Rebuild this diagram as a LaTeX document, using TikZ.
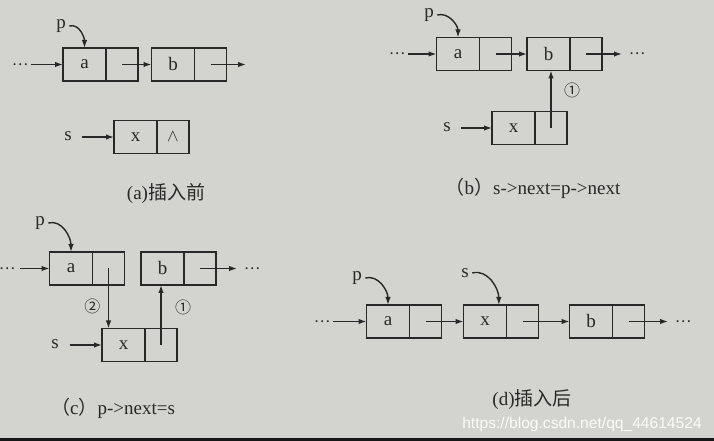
\documentclass[tikz,border=0pt]{standalone}
\usepackage{fontspec}
\setmainfont{Liberation Serif}
\newfontfamily\cjk{Noto Sans CJK SC}
\newfontfamily\webfont{Liberation Sans}
\usetikzlibrary{arrows.meta,positioning,calc}
\definecolor{paper}{RGB}{211,211,207}
\definecolor{ink}{RGB}{40,40,40}
\definecolor{frame}{RGB}{22,22,22}

\begin{document}
\begin{tikzpicture}[x=1pt, y=1pt,
    datacell/.style={draw=ink, rectangle, line width=1.4pt, minimum width=43pt, minimum height=33pt, inner sep=0pt, outer sep=0pt, text=ink, font=\fontsize{19}{21}\selectfont},
    ptrcell/.style={datacell, minimum width=32pt},
    lbl/.style={text=ink, font=\fontsize{19}{21}\selectfont},
    dots/.style={text=ink, font=\cjk\fontsize{15}{16}\selectfont},
    num/.style={text=ink, font=\cjk\fontsize{16}{18}\selectfont},
    link/.style={draw=ink, line width=1.4pt, -{Latex[length=8pt,width=5.5pt]}},
    caption/.style={text=ink, font=\fontsize{19}{21}\selectfont}]
    \fill[paper] (0,0) rectangle (714,441);
    \useasboundingbox (0,0) rectangle (714,441);
    \fill[frame] (0,0) rectangle (714,3);

    % (a) before insertion
    \node[dots] (dotsA) at (20,376.5) {…};
    \node[datacell] (aA) at (84.5,376.5) {a};
    \node[ptrcell, right=0pt of aA] (aAp) {};
    \node[datacell] (bA) at (173,376.5) {b};
    \node[ptrcell, right=0pt of bA] (bAp) {};
    \coordinate (endA) at (246,376.5);
    \node[lbl] (pA) at (61,415) {p};
    \node[lbl] (sA) at (68,305) {s};
    \node[datacell] (xA) at (135.5,304) {x};
    \node[ptrcell, right=0pt of xA] (xAp) {$\wedge$};
    \node[caption] (capA) at (166,248) {(a){\cjk 插入前}};
    \draw[link] (dotsA.east) -- (aA.west);
    \draw[link] (aAp.center) -- (bA.west);
    \draw[link] (bAp.center) -- (endA);
    \draw[link] (pA.east) to[out=15,in=90] (aA.north);
    \draw[link, shorten <=7pt] (sA.east |- xA.west) -- (xA.west);

    % (b) s->next=p->next
    \node[dots] (dotsB) at (397,387) {…};
    \node[datacell] (aB) at (458,387) {a};
    \node[ptrcell, right=0pt of aB] (aBp) {};
    \node[datacell] (bB) at (548.5,387) {b};
    \node[ptrcell, right=0pt of bB] (bBp) {};
    \coordinate (endB) at (622,387);
    \node[dots] (dotsB2) at (637,387) {…};
    \node[lbl] (pB) at (429,426) {p};
    \node[lbl] (sB) at (447,314) {s};
    \node[datacell] (xB) at (513.5,313) {x};
    \node[ptrcell, right=0pt of xB] (xBp) {};
    \node[caption] (capB) at (533,253) {{\cjk （}b{\cjk ）}s->next=p->next};
    \draw[link] (dotsB.east) -- (aB.west);
    \draw[link] (aBp.center) -- (bB.west);
    \draw[link] (bBp.center) -- (endB);
    \draw[link] (pB.east) to[out=15,in=90] (aB.north);
    \draw[link, shorten <=7pt] (sB.east |- xB.west) -- (xB.west);
    \draw[link] (xBp.center) -- (xBp.center |- bB.south) node[num, pos=0.65, right=9pt] {①};

    % (c) p->next=s
    \node[dots] (dotsC) at (7,172.5) {…};
    \node[datacell] (aC) at (71,172.5) {a};
    \node[ptrcell, right=0pt of aC] (aCp) {};
    \node[datacell] (bC) at (162.5,172.5) {b};
    \node[ptrcell, right=0pt of bC] (bCp) {};
    \coordinate (endC) at (237,172.5);
    \node[dots] (dotsC2) at (252,172.5) {…};
    \node[lbl] (pC) at (40,218) {p};
    \node[lbl] (sC) at (55,97) {s};
    \node[datacell] (xC) at (123.5,96) {x};
    \node[ptrcell, right=0pt of xC] (xCp) {};
    \node[caption] (capC) at (113,33) {{\cjk （}c{\cjk ）}p->next=s};
    \draw[link, shorten <=2pt] (dotsC.east) -- (aC.west);
    \draw[link] (bCp.center) -- (endC);
    \draw[link] (pC.east) to[out=15,in=90] (aC.north);
    \draw[link, shorten <=8pt] (sC.east |- xC.west) -- (xC.west);
    \draw[link] (aCp.center) -- (aCp.center |- xC.north) node[num, pos=0.64, left=4pt] {②};
    \draw[link] (xCp.center) -- (xCp.center |- bC.south) node[num, pos=0.63, right=10pt] {①};

    % (d) after insertion
    \node[dots] (dotsD) at (322,119.5) {…};
    \node[datacell] (aD) at (388,119.5) {a};
    \node[ptrcell, right=0pt of aD] (aDp) {};
    \node[datacell] (xD) at (485,119.5) {x};
    \node[ptrcell, right=0pt of xD] (xDp) {};
    \node[datacell] (bD) at (591,119.5) {b};
    \node[ptrcell, right=0pt of bD] (bDp) {};
    \coordinate (endD) at (668,119.5);
    \node[dots] (dotsD2) at (683,119.5) {…};
    \node[lbl] (pD) at (357,163) {p};
    \node[lbl] (sD) at (465,168) {s};
    \node[caption] (capD) at (532,41) {(d){\cjk 插入后}};
    \draw[link] (dotsD.east) -- (aD.west);
    \draw[link] (aDp.center) -- (xD.west);
    \draw[link] (xDp.center) -- (bD.west);
    \draw[link] (bDp.center) -- (endD);
    \draw[link] (pD.east) to[out=15,in=90] (aD.north);
    \draw[link] (sD.east) to[out=15,in=90] (xD.50);

    % watermark
    \node[text=white!90!paper, font=\webfont\fontsize{15.6}{17}\selectfont] (mark) at (582,17) {https://blog.csdn.net/qq\_44614524};
\end{tikzpicture}
\end{document}
